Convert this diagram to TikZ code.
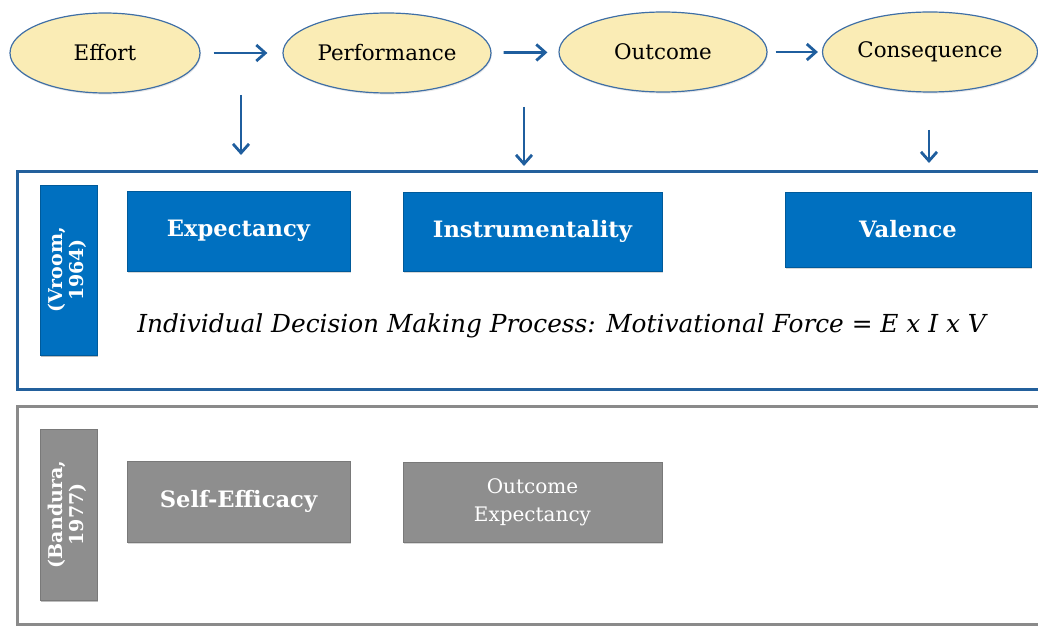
\documentclass[tikz,border=0pt]{standalone}
\usepackage{fontspec}
\setmainfont{DejaVu Serif}
\usetikzlibrary{arrows.meta,shadows,shapes.geometric}

\definecolor{ellfill}{HTML}{FAECB5}
\definecolor{ellline}{HTML}{3F6FA6}
\definecolor{arrblue}{HTML}{1F5E9E}
\definecolor{frameblue}{HTML}{23609C}
\definecolor{boxblue}{HTML}{0070C0}
\definecolor{boxgray}{HTML}{8E8E8E}
\definecolor{framegray}{HTML}{8A8A8A}

\tikzset{
  stage/.style={ellipse, draw=ellline, line width=0.6pt, fill=ellfill,
    inner sep=0pt, font=\fontsize{10.7}{12}\selectfont,
    drop shadow={opacity=0.18, shadow xshift=0.4pt, shadow yshift=-0.8pt}},
  flow/.style={draw=arrblue, line width=1.4pt,
    -{Straight Barb[length=4.5pt,width=8pt,line width=1.4pt]}},
  factor/.style={rectangle, inner sep=0pt, text=white, align=center,
    drop shadow={opacity=0.3, shadow xshift=0.5pt, shadow yshift=-0.8pt}},
  bluefactor/.style={factor, fill=boxblue, draw=boxblue!80!black, line width=0.3pt},
  grayfactor/.style={factor, fill=boxgray, draw=boxgray!85!black, line width=0.3pt},
  label/.style={font=\bfseries\fontsize{11.3}{13}\selectfont},
  source/.style={factor, font=\bfseries\fontsize{9.5}{10.5}\selectfont},
  panel/.style={line width=1.5pt}
}

\begin{document}
\begin{tikzpicture}[x=0.5pt,y=-0.5pt]
  \useasboundingbox (0,0) rectangle (1038,626);
  \clip (0,0) rectangle (1038,626);

  % Chain of stages
  \node[stage, minimum width=95pt, minimum height=40pt] (effort) at (105,53) {Effort};
  \node[stage, minimum width=104pt, minimum height=40pt] (perf) at (387,53) {Performance};
  \node[stage, minimum width=104pt, minimum height=40pt] (outc) at (663,52) {Outcome};
  \node[stage, minimum width=107.5pt, minimum height=40pt] (cons) at (930,52) {Consequence};

  \draw[flow, shorten <=6.5pt, shorten >=7.5pt] (effort) -- (perf);
  \draw[flow, shorten <=6pt, shorten >=5.5pt] (perf) -- (outc);
  \draw[flow, shorten <=4pt, shorten >=2pt] (outc) -- (cons);

  % Vroom panel
  \draw[panel, draw=frameblue, fill=white,
    drop shadow={opacity=0.2, shadow xshift=0.5pt, shadow yshift=-0.8pt}]
    (17,171) rectangle (1070,389);
  \node[bluefactor, source, minimum width=28.5pt, minimum height=85pt] (vroom) at (68.5,270)
    {\rotatebox{90}{\begin{tabular}{@{}c@{}}(Vroom,\\1964)\end{tabular}}};
  \node[bluefactor, label, minimum width=111.5pt, minimum height=40pt] (expe) at (238.5,231) {Expectancy};
  \node[bluefactor, label, minimum width=129.5pt, minimum height=39.5pt] (inst) at (532.5,231.5) {Instrumentality};
  \node[bluefactor, label, minimum width=123pt, minimum height=37.5pt] (vale) at (908,229.5) {Valence};
  \node[font=\itshape\fontsize{12.4}{14}\selectfont] (force) at (561.5,326)
    {Individual Decision Making Process: Motivational Force = E x I x V};

  % Links from the chain down to the Vroom panel
  \coordinate (d1a) at (241,95);  \coordinate (d1b) at (241,155);
  \coordinate (d2a) at (524,107); \coordinate (d2b) at (524,166);
  \coordinate (d3a) at (929,130); \coordinate (d3b) at (929,163);
  \draw[flow] (d1a) -- (d1b);
  \draw[flow] (d2a) -- (d2b);
  \draw[flow] (d3a) -- (d3b);

  % Bandura panel
  \draw[panel, draw=framegray, fill=white,
    drop shadow={opacity=0.2, shadow xshift=0.5pt, shadow yshift=-0.8pt}]
    (17,406) rectangle (1070,624);
  \node[grayfactor, source, minimum width=28.5pt, minimum height=85.5pt] (bandura) at (68.5,514.5)
    {\rotatebox{90}{\begin{tabular}{@{}c@{}}(Bandura,\\1977)\end{tabular}}};
  \node[grayfactor, label, minimum width=111.5pt, minimum height=40.5pt] (selfe) at (238.5,501.5) {Self-Efficacy};
  \node[grayfactor, font=\fontsize{10}{14}\selectfont, minimum width=129.5pt, minimum height=40pt] (oexp) at (532.5,502)
    {Outcome\\Expectancy};
\end{tikzpicture}
\end{document}
